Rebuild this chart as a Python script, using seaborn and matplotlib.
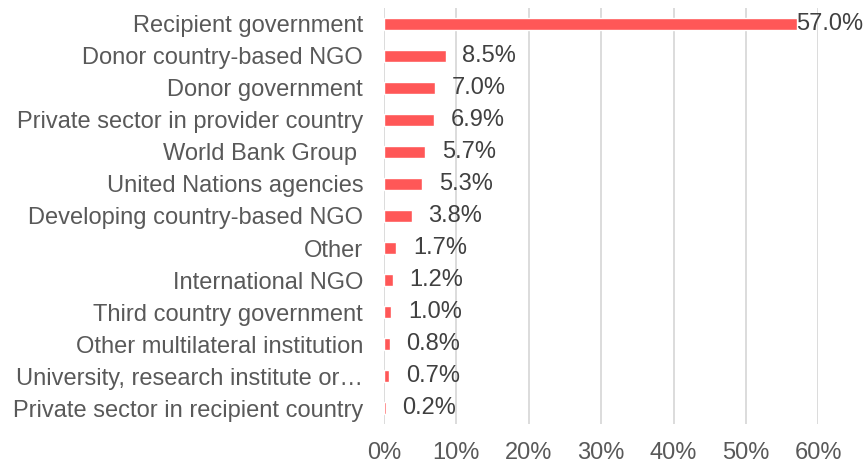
import matplotlib
matplotlib.use("Agg")
import matplotlib.pyplot as plt
import pandas as pd
import seaborn as sns

categories = [
    "Recipient government",
    "Donor country-based NGO",
    "Donor government",
    "Private sector in provider country",
    "World Bank Group ",
    "United Nations agencies",
    "Developing country-based NGO",
    "Other",
    "International NGO",
    "Third country government",
    "Other multilateral institution",
    "University, research institute or\u2026",
    "Private sector in recipient country",
]
shares = [57.0, 8.5, 7.0, 6.9, 5.7, 5.3, 3.8, 1.7, 1.2, 1.0, 0.8, 0.7, 0.2]
x_ticks = [0, 10, 20, 30, 40, 50, 60]

df = pd.DataFrame({"category": categories, "share": shares})

sns.set_style("white")
plt.rcParams["font.family"] = ["Liberation Sans", "DejaVu Sans"]

fig, ax = plt.subplots(figsize=(8.65, 4.66), dpi=100)
fig.subplots_adjust(left=0.444, right=0.946, top=0.983, bottom=0.09)

sns.barplot(data=df, x="share", y="category", color="#FF5757",
            width=0.35, saturation=1, ax=ax, zorder=3)

ax.set_xlim(0, 60)
ax.set_xticks(x_ticks)
ax.set_xticklabels([f"{t}%" for t in x_ticks])
ax.set_ylim(len(categories) - 0.5, -0.5)
ax.xaxis.grid(True, color="#D9D9D9", linewidth=1.3, zorder=0)
ax.set_axisbelow(True)
for s in ax.spines.values():
    s.set_visible(False)
ax.set_xlabel("")
ax.set_ylabel("")
ax.tick_params(axis="y", length=0, pad=15, labelsize=17, labelcolor="#595959")
ax.tick_params(axis="x", length=0, pad=13, labelsize=17, labelcolor="#595959")

for i, v in enumerate(shares):
    pad = 0 if i == 0 else 12
    ax.annotate(f"{v:.1f}%", (v, i), xytext=(pad, 0), textcoords="offset points",
                va="center", ha="left", fontsize=17, color="#404040",
                annotation_clip=False, zorder=4)

fig.savefig("out.png", dpi=100)
